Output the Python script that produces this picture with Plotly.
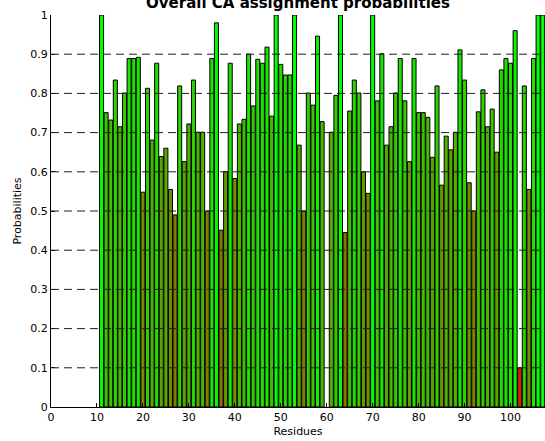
import plotly.graph_objects as go

residues = list(range(11, 108))
probabilities = [
    1.00, 0.751, 0.732, 0.834, 0.715, 0.801, 0.889, 0.889, 0.892, 0.548,   # 11-20
    0.813, 0.681, 0.877, 0.639, 0.660, 0.555, 0.490, 0.819, 0.626, 0.722,  # 21-30
    0.834, 0.701, 0.701, 0.500, 0.889, 0.980, 0.451, 0.600, 0.877, 0.583,  # 31-40
    0.722, 0.734, 0.900, 0.768, 0.887, 0.877, 0.918, 0.742, 1.00, 0.874,   # 41-50
    0.847, 0.847, 1.00, 0.668, 0.500, 0.801, 0.770, 0.946, 0.728, None,    # 51-60
    0.701, 0.795, 1.00, 0.445, 0.755, 0.834, 0.801, 0.600, 0.545, 1.00,    # 61-70
    0.781, 0.901, 0.668, 0.715, 0.801, 0.889, 0.781, 0.626, 0.889, 0.751,  # 71-80
    0.751, 0.739, 0.637, 0.819, 0.566, 0.691, 0.656, 0.701, 0.911, 0.834,  # 81-90
    0.572, 0.500, 0.753, 0.809, 0.715, 0.760, 0.650, 0.860, 0.889, 0.877,  # 91-100
    0.960, 0.100, 0.819, 0.555, 0.889, 1.00, 1.00,                         # 101-107
]
x_ticks = [0, 10, 20, 30, 40, 50, 60, 70, 80, 90, 100]
y_ticks = [0, 0.1, 0.2, 0.3, 0.4, 0.5, 0.6, 0.7, 0.8, 0.9, 1]
y_ticktext = ["0", "0.1", "0.2", "0.3", "0.4", "0.5", "0.6", "0.7", "0.8", "0.9", "1"]

colors = []
for p in probabilities:
    if p is None:
        colors.append("rgba(0,0,0,0)")
    else:
        colors.append(f"rgb({round(255*(1-p))},{round(255*p)},0)")

font_family = "DejaVu Sans"

fig = go.Figure()
fig.add_trace(go.Bar(
    x=residues,
    y=probabilities,
    marker=dict(color=colors, line=dict(color="black", width=1)),
    width=0.88,
    hoverinfo="x+y",
))

shapes = []
for yv in y_ticks[1:-1]:
    shapes.append(dict(
        type="line", xref="paper", x0=0, x1=1, yref="y", y0=yv, y1=yv,
        line=dict(color="rgb(30,30,30)", width=1, dash="8px,5px"),
        layer="above",
    ))

fig.update_layout(
    width=545, height=441,
    margin=dict(l=51, r=0, t=15, b=34, pad=0, autoexpand=False),
    paper_bgcolor="white", plot_bgcolor="white",
    showlegend=False,
    font=dict(family=font_family, size=11, color="black"),
    title=dict(
        text="<b>Overall CA assignment probabilities</b>",
        x=(51 + 545) / 2 / 545, xanchor="center",
        y=1 - 3 / 441, yanchor="middle",
        font=dict(family=font_family, size=15, color="black"),
    ),
    shapes=shapes,
    xaxis=dict(
        range=[0, 107.5],
        tickvals=x_ticks,
        ticks="inside", ticklen=4, tickcolor="black",
        showline=True, linecolor="black", linewidth=1,
        showgrid=False, zeroline=False,
        title=dict(text="Residues", standoff=4, font=dict(size=11)),
        tickfont=dict(size=11),
        automargin=False,
    ),
    yaxis=dict(
        range=[0, 1],
        tickvals=y_ticks, ticktext=y_ticktext,
        ticks="inside", ticklen=4, tickcolor="black",
        showline=True, linecolor="black", linewidth=1,
        showgrid=False, zeroline=False,
        title=dict(text="Probabilities", standoff=6, font=dict(size=11)),
        tickfont=dict(size=11),
        automargin=False,
    ),
)

fig.write_html(
    "out.html",
    config={"displayModeBar": False},
    post_script="document.body.style.margin='0';document.body.style.overflow='hidden';",
)
